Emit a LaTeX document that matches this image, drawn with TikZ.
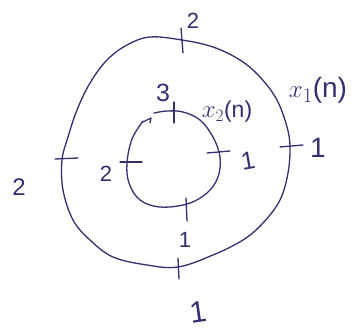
\documentclass[tikz,border=0pt]{standalone}
\usepackage{fontspec}
\setmainfont{Liberation Sans}
\definecolor{ink}{RGB}{50,48,110}
\begin{document}
\begin{tikzpicture}[x=1pt,y=-1pt,
  curve/.style={draw=ink,line width=1.3pt,line cap=round,line join=round},
  tickmark/.style={draw=ink,line width=1.3pt,line cap=round},
  lbl/.style={text=ink,inner sep=0pt,font=\fontsize{22}{24}\selectfont}]
\useasboundingbox (0,0) rectangle (354,330);
% outer closed curve x1(n)
\draw[curve] plot[smooth cycle,tension=0.6] coordinates {
 (182,40) (213,47) (240,60) (260,77) (277,100) (287,127) (290,147)
 (288,173) (280,200) (263,223) (243,240) (213,255) (178,267) (147,265)
 (113,257) (90,240) (73,220) (63,190) (62,160) (68,137) (77,110)
 (90,83) (107,60) (127,45) (150,37)};
% inner curve x2(n)
\draw[curve] plot[smooth,tension=0.6] coordinates {
 (154,113) (167,111) (183,112) (200,120) (213,137) (220,157) (218,177)
 (207,193) (187,204) (160,207) (140,200) (129,183) (127,163) (132,139) (143,121)};
\draw[curve] (143,122) -- (151,118) -- (150,123);
% ticks outer
\draw[tickmark] (181,28) -- (183,53);
\draw[tickmark] (55,159) -- (78,158);
\draw[tickmark] (280,147) -- (303,145);
\draw[tickmark] (178,258) -- (179,279);
% ticks inner
\draw[tickmark] (174,102) -- (174,123);
\draw[tickmark] (120,162) -- (142,162);
\draw[tickmark] (207,153) -- (230,151);
\draw[tickmark] (186,198) -- (187,221);
% labels
\node[lbl] (ltop) at (193,21) {2};
\node[lbl,font=\fontsize{24}{26}\selectfont] (lleft) at (19,187) {2};
\node[lbl,font=\fontsize{25}{27}\selectfont] (lthree) at (163,93) {3};
\node[lbl] (linleft) at (106,174) {2};
\node[lbl,rotate=10,font=\fontsize{25}{27}\selectfont] (linright) at (248,161) {1};
\node[lbl,font=\fontsize{28}{30}\selectfont] (loutright) at (318,148) {1};
\node[lbl] (lmid) at (185,240) {1};
\node[lbl,rotate=8,font=\fontsize{30}{32}\selectfont] (lbot) at (198,312) {1};
\node[lbl,font=\fontsize{23}{25}\selectfont] (xtwo) at (227,112) {$x_2$(n)};
\node[lbl,font=\fontsize{28}{30}\selectfont] (xone) at (318,90) {$x_1$(n)};
\end{tikzpicture}
\end{document}
